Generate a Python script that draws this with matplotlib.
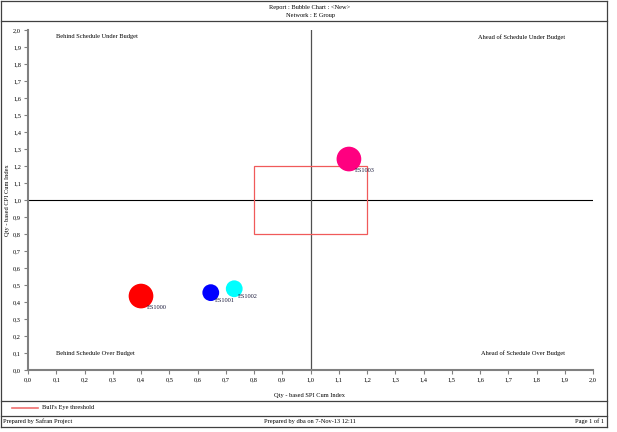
import matplotlib
matplotlib.use("Agg")
import matplotlib.pyplot as plt
from matplotlib.lines import Line2D
from matplotlib.patches import Rectangle

W, H = 617, 432

# bubble data
names = ["ES1000", "ES1001", "ES1002", "ES1003"]
spi = [0.40, 0.647, 0.73, 1.136]
cpi = [0.435, 0.455, 0.478, 1.241]
weight = [1.0, 0.68, 0.68, 1.0]
colors = ["#ff0000", "#0000ff", "#00ffff", "#ff0080"]

ticks = [i / 10 for i in range(21)]
tick_labels = [f"{t:.1f}".replace(".", ",") for t in ticks]

bulls_eye = (0.8, 1.2)

plt.rcParams["font.family"] = ["Liberation Serif", "DejaVu Serif"]
FS = 4.6


def fx(x):
    return x / W


def fy(y):
    return 1 - y / H


fig = plt.figure(figsize=(W / 100, H / 100), dpi=100)
ax = fig.add_axes([fx(28), fy(370), (593 - 28) / W, (370 - 30) / H])

ax.set_xlim(0, 2)
ax.set_ylim(0, 2)
ax.set_xticks(ticks)
ax.set_yticks(ticks)
ax.set_xticklabels(tick_labels, fontsize=FS)
ax.set_yticklabels(tick_labels, fontsize=FS)
ax.tick_params(direction="out", length=3, width=0.8, color="#808080", pad=2)
for s in ["top", "right"]:
    ax.spines[s].set_visible(False)
for s in ["left", "bottom"]:
    ax.spines[s].set_color("#808080")
    ax.spines[s].set_linewidth(1.5)

ax.axhline(1.0, color="black", lw=0.8, zorder=1)
ax.axvline(1.0, color="#505050", lw=0.9, zorder=1)

lo, hi = bulls_eye
ax.add_patch(Rectangle((lo, lo), hi - lo, hi - lo, fill=False,
                       edgecolor="#f05a5a", lw=0.9, zorder=2))

for n, x, y, w, c in zip(names, spi, cpi, weight, colors):
    d = 24.7 * w * 0.72  # diameter in points
    ax.scatter([x], [y], s=d ** 2, color=c, edgecolors="none", zorder=3)
    r = d / 2
    ax.annotate(n, (x, y), xytext=(0.45 * r, -0.9 * r), textcoords="offset points",
                fontsize=FS, ha="left", va="center", zorder=4, color="#202040")

ax.text(0.1, 1.96, "Behind Schedule Under Budget", fontsize=FS, ha="left", va="center")
ax.text(1.9, 1.96, "Ahead of Schedule Under Budget", fontsize=FS, ha="right", va="center")
ax.text(0.1, 0.1, "Behind Schedule Over Budget", fontsize=FS, ha="left", va="center")
ax.text(1.9, 0.1, "Ahead of Schedule Over Budget", fontsize=FS, ha="right", va="center")

fig.text(fx(310), fy(396), "Qty - based SPI Cum Index", fontsize=FS,
         ha="center", va="center")
fig.text(fx(8), fy(200), "Qty - based CPI Cum Index", fontsize=FS,
         rotation=90, ha="center", va="center")

# page frame
frame = "#404040"
for x0, y0, x1, y1 in [(1, 1, 607, 1), (1, 427, 607, 427), (1, 1, 1, 427),
                       (607, 1, 607, 427), (1, 20.5, 607, 20.5),
                       (1, 400.5, 607, 400.5), (1, 416, 607, 416)]:
    fig.add_artist(Line2D([fx(x0), fx(x1)], [fy(y0), fy(y1)], color=frame, lw=0.9))

fig.text(fx(310), fy(7), "Report : Bubble Chart : <New>", fontsize=FS, ha="center", va="center")
fig.text(fx(310), fy(16), "Network : E Group", fontsize=FS, ha="center", va="center")

fig.add_artist(Line2D([fx(12), fx(38)], [fy(408), fy(408)], color="#f07070", lw=1.2))
fig.text(fx(42), fy(408), "Bull's Eye threshold", fontsize=FS, ha="left", va="center")

fig.text(fx(3), fy(421.5), "Prepared by Safran Project", fontsize=FS, ha="left", va="center")
fig.text(fx(310), fy(421.5), "Prepared by dba on 7-Nov-13 12:11", fontsize=FS, ha="center", va="center")
fig.text(fx(604), fy(421.5), "Page 1 of 1", fontsize=FS, ha="right", va="center")

fig.savefig("out.png", dpi=100)
